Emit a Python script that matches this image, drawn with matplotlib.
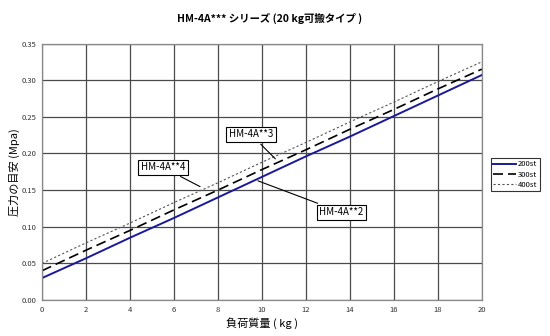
import matplotlib.pyplot as plt

plt.rcParams['font.family'] = ['Noto Sans CJK JP', 'DejaVu Sans']

# Daten
mass = [0, 2, 4, 6, 8, 10, 12, 14, 16, 18, 20]
p_200st = [0.030, 0.057, 0.085, 0.112, 0.140, 0.168, 0.196, 0.223, 0.251, 0.279, 0.307]
p_300st = [0.040, 0.068, 0.095, 0.123, 0.150, 0.178, 0.205, 0.233, 0.260, 0.288, 0.315]
p_400st = [0.050, 0.078, 0.105, 0.133, 0.160, 0.188, 0.215, 0.243, 0.270, 0.298, 0.325]
yticks = [0.00, 0.05, 0.10, 0.15, 0.20, 0.25, 0.30, 0.35]

fig = plt.figure(figsize=(5.5, 3.36), dpi=100)
ax = fig.add_axes([0.0764, 0.107, 0.7996, 0.7635])

l1, = ax.plot(mass, p_200st, color='#1a1a99', lw=1.4, label='200st')
l2, = ax.plot(mass, p_300st, color='black', lw=1.2, dashes=(6, 3), label='300st')
l3, = ax.plot(mass, p_400st, color='#555555', lw=0.8, dashes=(2, 2), label='400st')

ax.set_xlim(0, 20)
ax.set_ylim(0, 0.35)
ax.set_xticks(mass)
ax.set_yticks(yticks)
ax.set_yticklabels(['%.2f' % v for v in yticks])
ax.tick_params(labelsize=5.5, length=0, pad=4, colors='#333333')
ax.grid(True, color='#4a4a4a', lw=0.9)
for s in ax.spines.values():
    s.set_color('#888888')
    s.set_linewidth(0.9)

ax.set_xlabel('負荷質量 ( kg )', fontsize=8, labelpad=3)
ax.set_ylabel('圧力の目安 (Mpa)', fontsize=8, labelpad=1)
fig.text(0.49, 0.945, 'HM-4A*** シリーズ (20 kg可搬タイプ )', ha='center', va='center',
         fontsize=7.5, fontweight='bold')

box = dict(boxstyle='square,pad=0.25', fc='white', ec='black', lw=0.8)
arrow = dict(arrowstyle='-', color='black', lw=0.8)
ax.annotate('HM-4A**3', xy=(10.7, 0.19), xytext=(9.5, 0.226), fontsize=7, ha='center', va='center',
            bbox=box, arrowprops=arrow)
ax.annotate('HM-4A**4', xy=(7.3, 0.153), xytext=(5.5, 0.181), fontsize=7, ha='center', va='center',
            bbox=box, arrowprops=arrow)
ax.annotate('HM-4A**2', xy=(9.7, 0.164), xytext=(13.6, 0.12), fontsize=7, ha='center', va='center',
            bbox=box, arrowprops=arrow)

leg = fig.legend(handles=[l1, l2, l3], loc='center left', bbox_to_anchor=(0.893, 0.48),
                 fontsize=5.5, frameon=True, fancybox=False, edgecolor='black',
                 handlelength=3.0, handletextpad=0.2, borderpad=0.3, labelspacing=0.3,
                 borderaxespad=0)
leg.get_frame().set_linewidth(0.8)

fig.savefig('out.png', dpi=100)
